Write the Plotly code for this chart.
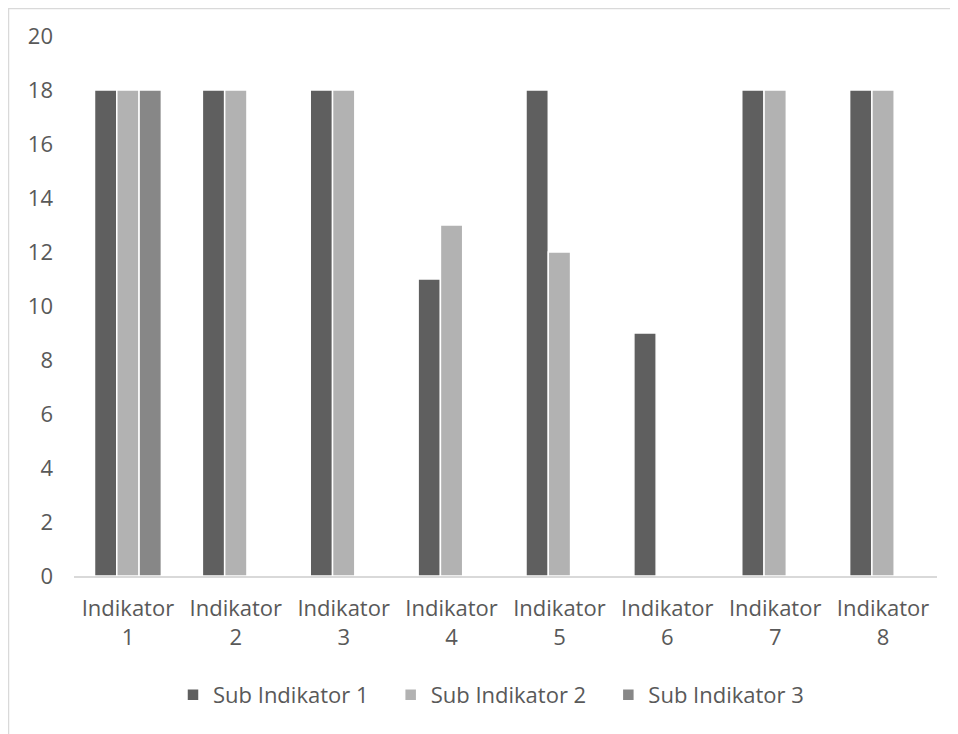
import plotly.graph_objects as go

categories = ["Indikator<br>1", "Indikator<br>2", "Indikator<br>3", "Indikator<br>4",
              "Indikator<br>5", "Indikator<br>6", "Indikator<br>7", "Indikator<br>8"]
sub1 = [18, 18, 18, 11, 18, 9, 18, 18]
sub2 = [18, 18, 18, 13, 12, None, 18, 18]
sub3 = [18, None, None, None, None, None, None, None]
names = ["Sub Indikator 1", "Sub Indikator 2", "Sub Indikator 3"]
colors = ["#5f5f5f", "#b2b2b2", "#878787"]
yticks = list(range(0, 21, 2))

FONT = "Open Sans, sans-serif"
OFF = 8  # page body margin
PAD = "\u00a0\u00a0\u00a0"

fig = go.Figure()
for name, vals, col in zip(names, [sub1, sub2, sub3], colors):
    fig.add_trace(go.Bar(x=categories, y=vals, name=name + PAD, marker_color=col,
                         marker_line=dict(color="white", width=1.5)))

W, H = 958, 734
L, R, T, B = 74 - OFF, 21 + OFF, 36 - OFF, 158 + OFF
pw, ph = W - L - R, H - T - B

def px2x(px):
    return (px - OFF - L) / pw

def py2y(py):
    return (H - B - (py - OFF)) / ph

fig.update_layout(
    width=W, height=H,
    margin=dict(l=L, r=R, t=T, b=B),
    paper_bgcolor="white", plot_bgcolor="white",
    barmode="group", bargap=0.38, bargroupgap=0.0,
    font=dict(family=FONT, size=22, color="#595959"),
    showlegend=True,
    legend=dict(orientation="h", x=px2x(500), xanchor="center", y=py2y(695), yanchor="middle",
                font=dict(size=22, color="#595959"), itemwidth=30, traceorder="normal"),
    xaxis=dict(showgrid=False, showline=True, linecolor="#d9d9d9", linewidth=1.5,
               ticks="", ticklabelstandoff=12,
               tickfont=dict(size=22, color="#595959"), fixedrange=True),
    yaxis=dict(range=[0, 20], tickvals=yticks, showgrid=False, showline=False,
               zeroline=False, ticks="", ticklabelstandoff=20,
               tickfont=dict(size=22, color="#595959"), fixedrange=True),
    shapes=[dict(type="rect", xref="paper", yref="paper",
                 x0=px2x(8.5), x1=px2x(990), y0=py2y(760), y1=py2y(8.5),
                 line=dict(color="#d9d9d9", width=1.5), fillcolor="rgba(0,0,0,0)", layer="below")],
)

fig.write_html("out.html")
